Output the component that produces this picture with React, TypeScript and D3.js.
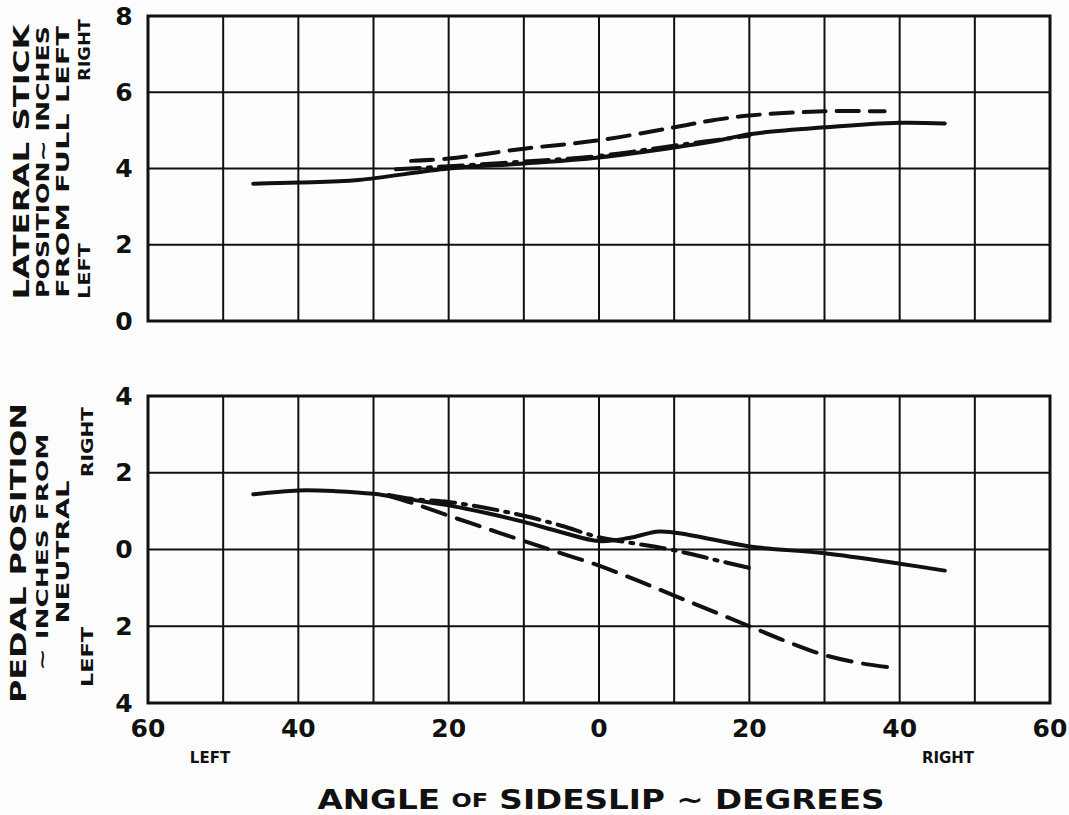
import * as d3 from 'd3'

// angle of sideslip, degrees (negative = left)
const xTicks = [-60, -40, -20, 0, 20, 40, 60]

// lateral stick position (in. from full left)
const stickSolidX = [-46, -40, -32, -20, -10, 0, 10, 16, 20, 30, 40, 46]
const stickSolidY = [3.6, 3.63, 3.7, 4.0, 4.13, 4.29, 4.55, 4.74, 4.9, 5.08, 5.2, 5.18]
const stickDashX = [-25, -20, -10, 0, 10, 15, 20, 30, 38]
const stickDashY = [4.2, 4.26, 4.52, 4.74, 5.08, 5.26, 5.39, 5.5, 5.5]
const stickDashDotX = [-27, -20, -10, 0, 10, 20]
const stickDashDotY = [3.98, 4.06, 4.18, 4.33, 4.6, 4.86]
const stickTicks = [0, 2, 4, 6, 8]

// pedal position (in. from neutral, + = right)
const pedalSolidX = [-46, -40, -35, -30, -25, -20, -15, -10, -5, 0, 4, 8, 12, 20, 30, 40, 46]
const pedalSolidY = [1.44, 1.54, 1.52, 1.45, 1.3, 1.15, 0.95, 0.72, 0.45, 0.22, 0.3, 0.47, 0.38, 0.08, -0.1, -0.37, -0.55]
const pedalDashX = [-28, -25, -20, -15, -10, -5, 0, 5, 10, 15, 20, 25, 30, 35, 39]
const pedalDashY = [1.4, 1.22, 0.88, 0.55, 0.22, -0.1, -0.42, -0.8, -1.2, -1.6, -2.0, -2.4, -2.75, -2.97, -3.08]
const pedalDashDotX = [-28, -25, -20, -15, -10, -5, 0, 5, 10, 15, 20]
const pedalDashDotY = [1.42, 1.32, 1.24, 1.08, 0.88, 0.62, 0.32, 0.15, -0.02, -0.25, -0.48]
const pedalTicks = [-4, -2, 0, 2, 4]

const font = "'DejaVu Sans', sans-serif"
const ink = '#111'

const zip = (xs: number[], ys: number[]) => xs.map((x, i) => [x, ys[i]] as [number, number])

const Panel = ({ yScale, yTicks, series }: any) => {
  const x = d3.scaleLinear().domain([-60, 60]).range([148, 1050])
  const [y0, y1] = yScale.range()
  const line = d3.line<[number, number]>()
    .x(d => x(d[0]))
    .y(d => yScale(d[1]))
    .curve(d3.curveCatmullRom)
  const vGrid = d3.range(-60, 61, 10)
  return (
    <g>
      {vGrid.map(v => (
        <line key={'v' + v} x1={x(v)} x2={x(v)} y1={y0} y2={y1} stroke={ink} strokeWidth={2} />
      ))}
      {yTicks.map((t: number) => (
        <line key={'h' + t} x1={x(-60)} x2={x(60)} y1={yScale(t)} y2={yScale(t)} stroke={ink} strokeWidth={2} />
      ))}
      <rect x={x(-60)} y={y1} width={x(60) - x(-60)} height={y0 - y1} fill="none" stroke={ink} strokeWidth={3} />
      {yTicks.map((t: number) => (
        <text key={'t' + t} x={124} y={yScale(t)} textAnchor="middle" dominantBaseline="central"
          fontFamily={font} fontWeight="bold" fontSize={25} fill={ink}>{Math.abs(t)}</text>
      ))}
      {series.map((s: any, i: number) => (
        <path key={i} d={line(zip(s.x, s.y)) || ''} fill="none" stroke={ink} strokeWidth={4}
          strokeLinecap="round" strokeDasharray={s.dash} />
      ))}
    </g>
  )
}

const VText = ({ x, y, len, size, children }: any) => (
  <text transform={`translate(${x},${y}) rotate(-90)`} textAnchor="middle" dominantBaseline="central"
    fontFamily={font} fontWeight="bold" fontSize={size} fill={ink}
    textLength={len} lengthAdjust="spacingAndGlyphs">{children}</text>
)

export default function App() {
  const yStick = d3.scaleLinear().domain([0, 8]).range([321, 16])
  const yPedal = d3.scaleLinear().domain([-4, 4]).range([703, 396])
  const x = d3.scaleLinear().domain([-60, 60]).range([148, 1050])

  return (
    <svg width={1069} height={815} style={{ position: 'absolute', left: 0, top: 0, background: '#fdfdfd' }}>
      <Panel yScale={yStick} yTicks={stickTicks} series={[
        { x: stickSolidX, y: stickSolidY, dash: null },
        { x: stickDashX, y: stickDashY, dash: '22 11' },
        { x: stickDashDotX, y: stickDashDotY, dash: '24 8 3 8' },
      ]} />
      <Panel yScale={yPedal} yTicks={pedalTicks} series={[
        { x: pedalSolidX, y: pedalSolidY, dash: null },
        { x: pedalDashX, y: pedalDashY, dash: '24 12' },
        { x: pedalDashDotX, y: pedalDashDotY, dash: '24 8 3 8' },
      ]} />

      <VText x={22} y={162} len={275} size={21}>LATERAL STICK</VText>
      <VText x={43} y={162} len={272} size={17}>POSITION~ INCHES</VText>
      <VText x={63} y={162} len={272} size={17}>FROM FULL LEFT</VText>
      <VText x={85} y={50} len={62} size={15}>RIGHT</VText>
      <VText x={85} y={271} len={56} size={15}>LEFT</VText>

      <VText x={19} y={553} len={300} size={21}>PEDAL POSITION</VText>
      <VText x={42} y={552} len={237} size={16}>~ INCHES FROM</VText>
      <VText x={63} y={552} len={143} size={17}>NEUTRAL</VText>
      <VText x={88} y={442} len={70} size={15}>RIGHT</VText>
      <VText x={88} y={657} len={60} size={15}>LEFT</VText>

      {xTicks.map(t => (
        <text key={t} x={x(t)} y={728} textAnchor="middle" dominantBaseline="central"
          fontFamily={font} fontWeight="bold" fontSize={25} fill={ink}>{Math.abs(t)}</text>
      ))}
      <text x={210} y={758} textAnchor="middle" dominantBaseline="central" fontFamily={font}
        fontWeight="bold" fontSize={15} fill={ink}>LEFT</text>
      <text x={948} y={758} textAnchor="middle" dominantBaseline="central" fontFamily={font}
        fontWeight="bold" fontSize={15} fill={ink}>RIGHT</text>
      <text x={601} y={800} textAnchor="middle" dominantBaseline="central" fontFamily={font}
        fontWeight="bold" fontSize={26} fill={ink} textLength={567} lengthAdjust="spacingAndGlyphs">
        ANGLE <tspan fontSize={19}>OF</tspan> SIDESLIP ~ DEGREES
      </text>
    </svg>
  )
}
